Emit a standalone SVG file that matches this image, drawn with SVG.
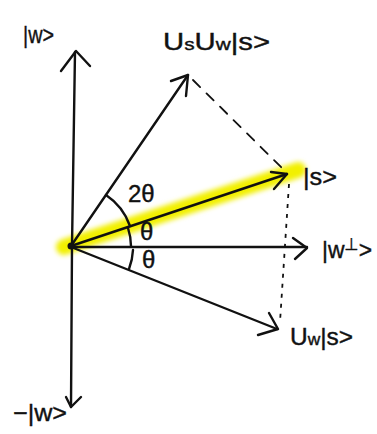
<svg xmlns="http://www.w3.org/2000/svg" width="377" height="434" viewBox="0 0 377 434">
<style>
.ln{fill:none;stroke:#111;stroke-width:2.4;stroke-linecap:round;stroke-linejoin:round}
.dash{fill:none;stroke:#111;stroke-width:1.8;stroke-dasharray:10 9;stroke-linecap:round}
.dot{fill:none;stroke:#111;stroke-width:1.8;stroke-dasharray:4 6}
.t{font-family:"Liberation Sans","DejaVu Sans",sans-serif;font-size:24px;fill:#111;stroke:#111;stroke-width:0.4}
.sm{font-size:17px}
</style>
<defs>
<filter id="blur" x="-10%" y="-50%" width="120%" height="200%"><feGaussianBlur stdDeviation="2.5"/></filter>
</defs>
<rect width="377" height="434" fill="#fff"/>
<g id="highlight">
<line x1="64" y1="247" x2="298" y2="170" stroke="#f2f000" stroke-width="16" stroke-linecap="round" filter="url(#blur)"/>
</g>
<g id="connectors">
<path class="ln" d="M71,407 L72,246 L75,52"/>
<path class="ln" d="M61,71 L76,51 L90,66"/>
<path class="ln" d="M66,397 L71,407 L81,397"/>
<path class="ln" d="M71,247 L307,247"/>
<path class="ln" d="M293,238 L307,248 L295,259"/>
<path class="ln" d="M71,246 L287,174"/>
<path class="ln" d="M271,172 L287,174 L274,189"/>
<path class="ln" d="M71,246 L188,75"/>
<path class="ln" d="M171,81 L188,75 L186,96"/>
<path class="ln" d="M71,247 L277,329"/>
<path class="ln" d="M258,335 L278,329 L269,313"/>
<path class="dash" d="M193,80 L284,170"/>
<path class="dot" d="M289,184 L280,322"/>
<path class="ln" d="M106,195 A62,62 0 0 1 130,226"/>
<path class="ln" d="M128,228 A60,60 0 0 1 131,246"/>
<path class="ln" d="M133,250 A62,62 0 0 1 129,269"/>
<circle cx="71" cy="246" r="3.5" fill="#111"/>
</g>
<g id="label-w"><text class="t" x="23" y="43" textLength="31" lengthAdjust="spacingAndGlyphs">|w&gt;</text></g>
<g id="label-usuws"><text class="t" x="163" y="50" textLength="107" lengthAdjust="spacingAndGlyphs">U<tspan class="sm">s</tspan>U<tspan class="sm">w</tspan>|s&gt;</text></g>
<g id="label-s"><text class="t" x="303" y="185" textLength="34" lengthAdjust="spacingAndGlyphs">|s&gt;</text></g>
<g id="label-wperp"><text class="t" x="322" y="258" textLength="50" lengthAdjust="spacingAndGlyphs">|w<tspan class="sm" dy="-8">⊥</tspan><tspan dy="8">&gt;</tspan></text></g>
<g id="label-uws"><text class="t" x="290" y="345" textLength="63" lengthAdjust="spacingAndGlyphs">U<tspan class="sm">w</tspan>|s&gt;</text></g>
<g id="label-negw"><text class="t" x="13" y="421" textLength="54" lengthAdjust="spacingAndGlyphs">−|w&gt;</text></g>
<g id="label-2theta"><text class="t" x="128" y="202" font-size="23">2θ</text></g>
<g id="label-theta1"><text class="t" x="140" y="240" font-size="19">θ</text></g>
<g id="label-theta2"><text class="t" x="142" y="268" font-size="19">θ</text></g>
</svg>
